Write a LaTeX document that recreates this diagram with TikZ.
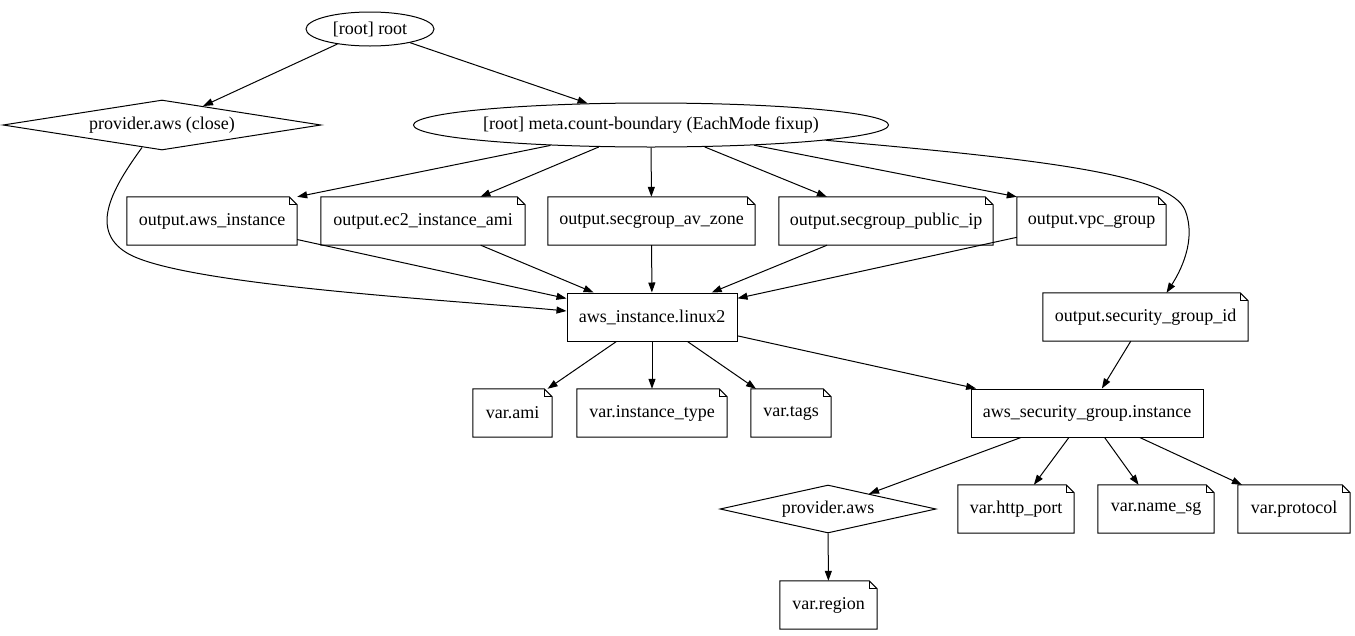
\documentclass[tikz,border=0pt]{standalone}
\usepackage{fontspec}
\setmainfont{Liberation Serif}
\usetikzlibrary{shapes.geometric,arrows.meta}
\begin{document}
\begin{tikzpicture}[x=1pt,y=-1pt,
  every node/.style={font=\fontsize{18}{20}\selectfont, inner sep=0pt},
  box/.style={draw, line width=1pt, rectangle, minimum height=48pt},
  notebox/.style={rectangle, minimum height=48pt},
  oval/.style={draw, line width=1pt, ellipse},
  dia/.style={draw, line width=1pt, diamond, aspect=5},
  conn/.style={line width=1pt, -{Triangle[length=10pt,width=7pt]}},
  noteline/.style={line width=1pt, line join=miter}
]
\useasboundingbox (0,0) rectangle (1355,635);
\fill[white] (0,0) rectangle (1355,635);

% nodes
\node[oval, minimum width=128pt, minimum height=34pt] (root) at (370,29) {[root] root};
\node[dia, minimum width=318pt, minimum height=50pt] (pac) at (162,125) {provider.aws (close)};
\node[oval, minimum width=471pt, minimum height=44pt] (meta) at (651,125) {[root] meta.count-boundary (EachMode fixup)};

\node[notebox, minimum width=170pt] (oai) at (212,221) {output.aws\_instance};
\node[notebox, minimum width=204pt] (oea) at (423,221) {output.ec2\_instance\_ami};
\node[notebox, minimum width=207pt] (osz) at (651.5,221) {output.secgroup\_av\_zone};
\node[notebox, minimum width=214pt] (osp) at (886,221) {output.secgroup\_public\_ip};
\node[notebox, minimum width=149pt] (ovpc) at (1091.5,221) {output.vpc\_group};

\node[box, minimum width=170pt] (ai) at (652,317) {aws\_instance.linux2};
\node[notebox, minimum width=205pt] (osg) at (1145.5,317) {output.security\_group\_id};

\node[notebox, minimum width=79pt] (vami) at (512.5,413) {var.ami};
\node[notebox, minimum width=150pt] (vit) at (652,413) {var.instance\_type};
\node[notebox, minimum width=80pt] (vtags) at (791,413) {var.tags};
\node[box, minimum width=232pt] (asg) at (1087,413) {aws\_security\_group.instance};

\node[dia, minimum width=216pt, minimum height=48pt] (pa) at (828,509) {provider.aws};
\node[notebox, minimum width=116pt] (vhp) at (1016,509) {var.http\_port};
\node[notebox, minimum width=116pt] (vns) at (1156,509) {var.name\_sg};
\node[notebox, minimum width=112pt] (vp) at (1294,509) {var.protocol};
\node[notebox, minimum width=97pt] (vr) at (828.5,605) {var.region};

% note outlines
\foreach \n in {oai,oea,osz,osp,ovpc,osg,vami,vit,vtags,vhp,vns,vp,vr} {
  \draw[noteline] (\n.south west) -- (\n.south east) -- ([yshift=-8pt]\n.north east)
    -- ([xshift=-8pt]\n.north east) -- (\n.north west) -- cycle;
  \draw[noteline] ([xshift=-8pt]\n.north east) -- ([xshift=-8pt,yshift=-8pt]\n.north east)
    -- ([yshift=-8pt]\n.north east);
}

% connectors
\draw[conn] (root) -- (pac);
\draw[conn] (root) -- (meta);
\draw[conn] (meta) -- (oai.north east);
\draw[conn] (meta) -- (oea);
\draw[conn] (meta) -- (osz);
\draw[conn] (meta) -- (osp);
\draw[conn] (meta) -- (ovpc.north west);
\draw[conn] (meta.-5) .. controls (1050,160) and (1170,175) .. (1185,210)
  .. controls (1197,240) and (1180,272) .. ([xshift=21pt]osg.north);
\draw[conn] ([xshift=-20pt,yshift=3pt]pac.south) .. controls (115,185) and (87,229) .. (127,253)
  .. controls (180,285) and (450,300) .. ([yshift=6pt]ai.west);
\draw[conn] (oai) -- (ai);
\draw[conn] (oea) -- (ai);
\draw[conn] (osz) -- (ai);
\draw[conn] (osp) -- (ai);
\draw[conn] (ovpc) -- (ai);
\draw[conn] (osg) -- (asg);
\draw[conn] (ai) -- (vami);
\draw[conn] (ai) -- (vit);
\draw[conn] (ai) -- (vtags);
\draw[conn] (ai) -- (asg);
\draw[conn] (asg) -- (pa);
\draw[conn] (asg) -- (vhp);
\draw[conn] (asg) -- (vns);
\draw[conn] (asg) -- (vp);
\draw[conn] (pa) -- (vr);
\end{tikzpicture}
\end{document}
